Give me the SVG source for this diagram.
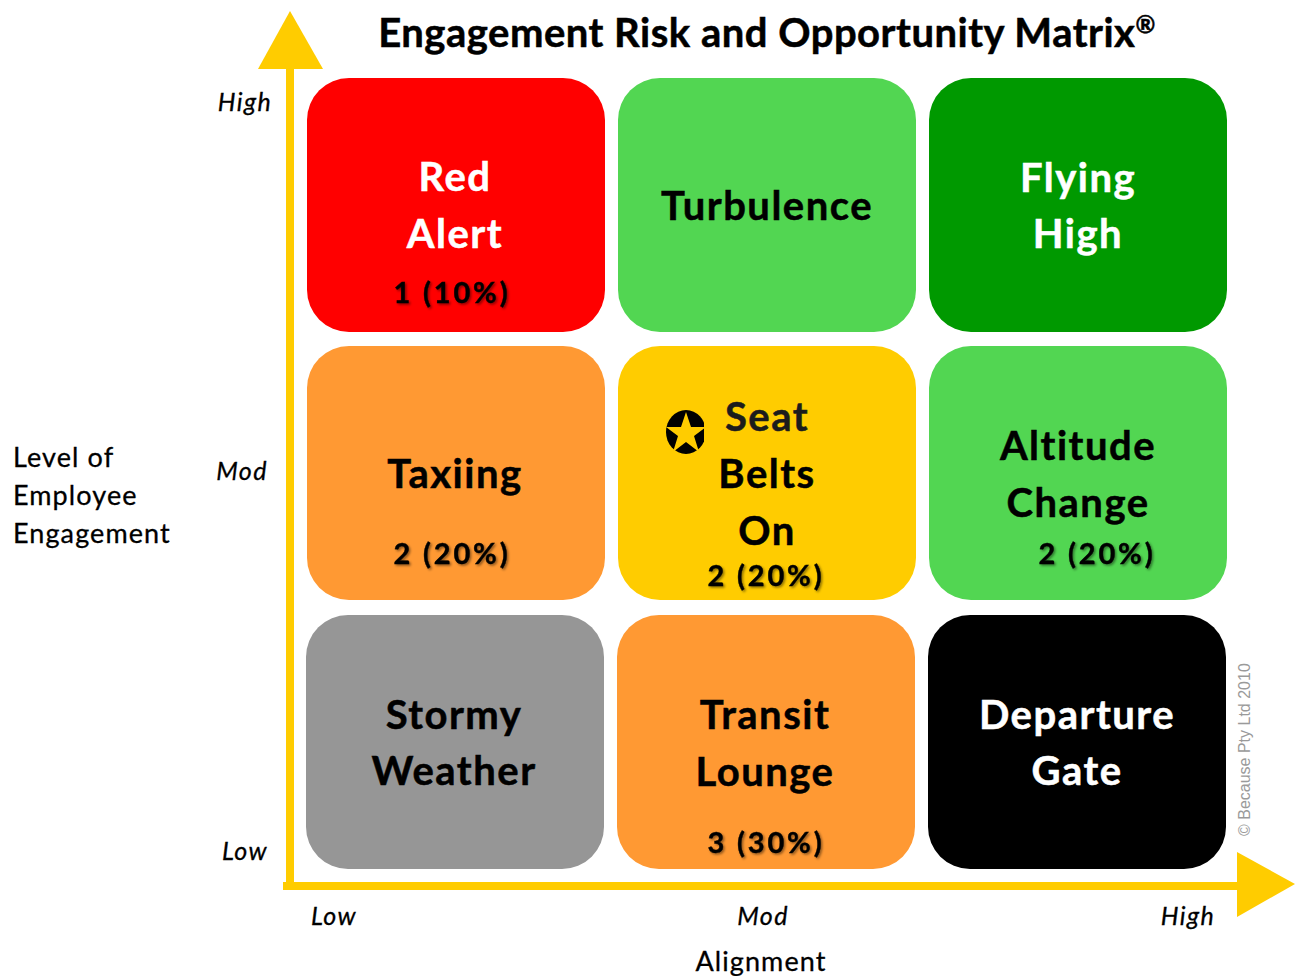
<svg xmlns="http://www.w3.org/2000/svg" width="1297" height="976" viewBox="0 0 1297 976">
<style>
text{font-family:Lato,"Liberation Sans",sans-serif;fill:#000}
.t{font-size:40px;font-weight:700;text-anchor:middle;letter-spacing:1.5px;stroke:#000;stroke-width:.5px}
.t.w{fill:#fff;stroke:#fff}
.c{font-size:29px;font-weight:700;text-anchor:middle;letter-spacing:2.8px;stroke:#000;stroke-width:.4px;filter:url(#s)}
.a{font-size:25px;font-style:italic;text-anchor:middle;letter-spacing:1.4px;stroke:#000;stroke-width:.3px}
.l{font-size:27px;letter-spacing:1.1px;stroke:#000;stroke-width:.3px}
.ax{fill:#ffcc00}
</style>
<defs><filter id="s" x="-10%" y="-20%" width="120%" height="140%"><feDropShadow dx="1.500" dy="1.500" stdDeviation="0.800" flood-color="#000" flood-opacity="0.450"/></filter>
<clipPath id="sc"><rect x="660" y="405" width="44" height="55"/></clipPath></defs>
<rect width="1297" height="976" fill="#fff"/>
<g id="connectors">
<path class="ax" d="M286 68V890H294V68Z"/>
<path class="ax" d="M283 882H1237V890H283Z"/>
<polygon class="ax" points="258,69 323,69 290,11"/>
<polygon class="ax" points="1237,852 1237,917 1295,884"/>
</g>
<text id="title" x="767" y="47" font-size="40" font-weight="700" text-anchor="middle" letter-spacing="0.5" stroke="#000" stroke-width="0.5">Engagement Risk and Opportunity Matrix<tspan font-size="24" dy="-14">®</tspan></text>
<g id="red-alert"><rect x="307" y="78" width="298" height="254" rx="42" fill="#ff0000"/><text class="t w" x="455" y="191">Red</text><text class="t w" x="455" y="248">Alert</text><text class="c" x="452" y="303">1 (10%)</text></g>
<g id="turbulence"><rect x="618" y="78" width="298" height="254" rx="42" fill="#52d652"/><text class="t" x="767" y="220">Turbulence</text></g>
<g id="flying-high"><rect x="929" y="78" width="298" height="254" rx="42" fill="#009900"/><text class="t w" x="1078" y="192">Flying</text><text class="t w" x="1078" y="248">High</text></g>
<g id="taxiing"><rect x="307" y="346" width="298" height="254" rx="42" fill="#ff9933"/><text class="t" x="455" y="488">Taxiing</text><text class="c" x="452" y="564">2 (20%)</text></g>
<g id="seat-belts-on"><rect x="618" y="346" width="298" height="254" rx="42" fill="#ffcc00"/>
<ellipse cx="686" cy="432" rx="20" ry="22" fill="#000" clip-path="url(#sc)"/>
<polygon points="686,412 691,427 706,427 694,436 699,452 686,442 673,452 678,436 666,427 681,427" fill="#ffcc00"/>
<text class="t" x="767" y="431" style="fill:#1c1c1c;stroke:#1c1c1c">Seat</text><text class="t" x="767" y="488">Belts</text><text class="t" x="767" y="545">On</text><text class="c" x="766" y="586">2 (20%)</text></g>
<g id="altitude-change"><rect x="929" y="346" width="298" height="254" rx="42" fill="#52d652"/><text class="t" x="1078" y="460">Altitude</text><text class="t" x="1078" y="517">Change</text><text class="c" x="1097" y="564">2 (20%)</text></g>
<g id="stormy-weather"><rect x="306" y="615" width="298" height="254" rx="42" fill="#969696"/><text class="t" x="454" y="729">Stormy</text><text class="t" x="454" y="785">Weather</text></g>
<g id="transit-lounge"><rect x="617" y="615" width="298" height="254" rx="42" fill="#ff9933"/><text class="t" x="765" y="729">Transit</text><text class="t" x="765" y="786">Lounge</text><text class="c" x="766" y="853">3 (30%)</text></g>
<g id="departure-gate"><rect x="928" y="615" width="298" height="254" rx="42" fill="#000"/><text class="t w" x="1077" y="729">Departure</text><text class="t w" x="1077" y="785">Gate</text></g>
<g id="labels">
<text class="a" x="245" y="111">High</text><text class="a" x="242" y="480">Mod</text><text class="a" x="245" y="860">Low</text>
<text class="a" x="334" y="925">Low</text><text class="a" x="763" y="925">Mod</text><text class="a" x="1188" y="925">High</text>
<text class="l" x="13" y="467">Level of</text><text class="l" x="13" y="505">Employee</text><text class="l" x="13" y="543">Engagement</text>
<text class="l" x="761" y="971" text-anchor="middle">Alignment</text>
<text x="1250" y="836" transform="rotate(-90 1250 836)" style="font-family:'Liberation Sans',sans-serif;font-size:16px;fill:#9a9a9a">© Because Pty Ltd 2010</text>
</g>
</svg>
